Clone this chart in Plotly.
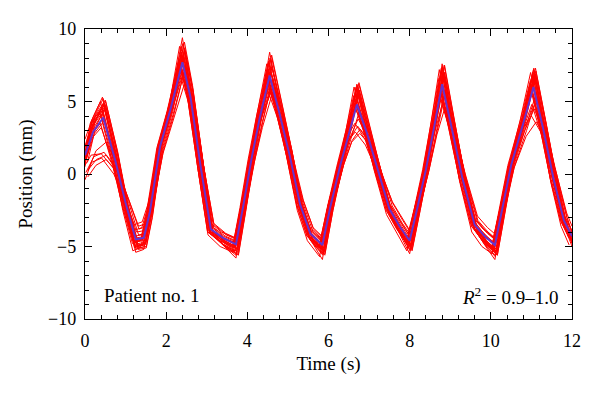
import plotly.graph_objects as go

# Shared sample times (s)
TIME = [0.0, 0.2, 0.45, 0.75, 1.0, 1.25, 1.45, 1.6, 1.85, 2.1, 2.4, 2.6, 2.85, 3.1, 3.4, 3.72,
        3.9, 4.1, 4.3, 4.55, 4.8, 5.05, 5.3, 5.55, 5.85, 6.05, 6.3, 6.5, 6.7, 6.95, 7.2, 7.5,
        7.75, 8.0, 8.2, 8.4, 8.6, 8.8, 9.05, 9.3, 9.6, 9.85, 10.1, 10.3, 10.5, 10.8, 11.05,
        11.3, 11.55, 11.8, 12.0]

# Mean (blue) trace, mm
MEAN = [1.3, 2.9, 3.9, 0.9, -2.0, -4.5, -4.4, -2.6, 1.9, 4.4, 7.7, 5.3, 0.5, -3.8, -4.4, -4.85,
        -2.2, 1.0, 3.8, 6.8, 4.1, 1.2, -2.1, -4.1, -4.9, -2.2, 0.7, 2.8, 4.8, 2.8, 0.4, -2.4,
        -3.6, -4.6, -2.2, 0.3, 3.2, 6.2, 3.0, -0.3, -3.5, -4.3, -4.9, -2.2, 0.6, 3.5, 6.0,
        3.0, -0.4, -3.2, -4.3]

# Per-trace time offsets (s)
SHIFT = [0.0, -0.07, 0.05, -0.03, 0.04, -0.08, 0.08, -0.04, 0.02, 0.07, -0.05, 0.01,
         -0.02, 0.05, -0.06, 0.03, -0.02, 0.06, -0.04, 0.03, -0.07, 0.07, 0.0, -0.05, 0.06]

# Individual (red) traces, mm
TRACES = [
    [1.8, 3.8, 5.2, 1.5, -2.2, -5.0, -4.8, -2.8, 2.2, 4.8, 9.4, 6.0, 0.8, -4.0, -4.9, -5.6, -2.5, 1.2, 4.3, 8.4, 4.8, 1.5, -2.3, -4.5, -5.5, -2.4, 0.9, 3.4, 6.2, 3.3, 0.6, -2.6, -4.0, -5.2, -2.5, 0.5, 3.8, 7.6, 3.6, -0.2, -3.8, -4.8, -5.6, -2.4, 0.8, 4.0, 7.2, 3.5, -0.3, -3.4, -4.8],
    [0.9, 3.5, 5.0, 1.2, -2.5, -5.3, -5.0, -3.0, 1.6, 4.0, 8.8, 5.8, 0.4, -4.2, -5.0, -5.4, -2.6, 0.8, 4.0, 7.6, 4.5, 1.0, -2.5, -4.6, -5.7, -2.6, 0.5, 3.0, 6.0, 3.0, 0.2, -2.8, -4.1, -5.3, -2.6, 0.2, 3.6, 7.2, 3.4, -0.5, -4.0, -5.0, -5.5, -2.6, 0.4, 3.8, 7.0, 3.3, -0.6, -3.6, -4.9],
    [2.0, 3.9, 4.8, 1.4, -2.0, -4.8, -4.7, -2.5, 2.3, 5.0, 8.6, 5.9, 1.0, -3.9, -4.7, -5.2, -2.3, 1.3, 4.2, 7.4, 4.6, 1.6, -2.0, -4.3, -5.3, -2.3, 1.0, 3.3, 5.8, 3.2, 0.7, -2.5, -3.8, -5.0, -2.3, 0.6, 3.9, 7.0, 3.6, 0.0, -3.6, -4.6, -5.4, -2.3, 0.9, 4.1, 6.9, 3.6, 0.0, -3.2, -4.6],
    [1.5, 3.6, 4.6, 1.0, -2.3, -5.1, -4.9, -2.9, 1.9, 4.6, 8.2, 5.6, 0.6, -4.1, -4.8, -5.3, -2.4, 1.0, 4.1, 7.2, 4.4, 1.3, -2.2, -4.4, -5.2, -2.4, 0.8, 3.1, 5.6, 3.0, 0.4, -2.6, -3.9, -5.0, -2.4, 0.4, 3.6, 6.9, 3.3, -0.2, -3.7, -4.7, -5.3, -2.4, 0.7, 3.8, 6.6, 3.3, -0.3, -3.3, -4.5],
    [1.1, 3.3, 4.4, 1.1, -2.1, -4.9, -4.8, -2.7, 2.0, 4.5, 8.0, 5.5, 0.7, -3.9, -4.6, -5.1, -2.3, 1.1, 3.9, 7.0, 4.3, 1.3, -2.1, -4.2, -5.1, -2.3, 0.8, 3.0, 5.5, 3.0, 0.5, -2.5, -3.7, -4.9, -2.3, 0.4, 3.5, 6.8, 3.3, -0.2, -3.6, -4.6, -5.2, -2.3, 0.7, 3.7, 6.5, 3.2, -0.3, -3.3, -4.4],
    [0.5, 3.0, 4.2, 0.9, -2.2, -4.8, -4.6, -2.6, 1.8, 4.3, 7.9, 5.4, 0.6, -4.0, -4.6, -5.0, -2.3, 1.0, 3.9, 7.1, 4.2, 1.2, -2.2, -4.3, -5.0, -2.3, 0.7, 2.9, 5.4, 2.9, 0.4, -2.5, -3.7, -4.8, -2.3, 0.3, 3.4, 6.6, 3.1, -0.3, -3.6, -4.5, -5.1, -2.3, 0.6, 3.6, 6.4, 3.1, -0.4, -3.2, -4.4],
    [0.3, 1.0, 1.3, 0.2, -1.8, -3.8, -3.6, -2.2, 1.6, 4.0, 7.5, 5.1, 0.4, -3.5, -4.2, -4.6, -2.1, 0.9, 3.6, 6.6, 4.0, 1.0, -1.8, -3.8, -4.6, -2.0, 0.7, 2.3, 3.1, 2.2, 0.3, -2.0, -3.2, -4.3, -2.0, 0.3, 3.0, 5.6, 3.0, -0.2, -3.2, -4.0, -4.6, -2.0, 0.5, 3.0, 5.3, 2.8, -0.2, -3.0, -4.0],
    [-0.4, 0.8, 1.1, 0.0, -1.6, -3.5, -3.3, -2.0, 1.5, 3.8, 7.2, 5.0, 0.6, -3.3, -4.0, -4.4, -2.0, 0.8, 3.4, 6.2, 3.9, 1.1, -1.7, -3.6, -4.4, -1.9, 0.6, 2.2, 2.9, 2.0, 0.4, -1.9, -3.0, -4.1, -1.9, 0.2, 2.8, 5.2, 2.8, -0.1, -3.0, -3.8, -4.4, -1.9, 0.4, 2.8, 4.8, 2.6, -0.1, -2.8, -3.7],
    [0.1, 1.2, 1.5, 0.3, -1.9, -4.0, -3.9, -2.4, 1.7, 4.1, 7.0, 5.0, 0.5, -3.6, -4.3, -4.7, -2.2, 0.9, 3.5, 6.0, 3.9, 1.0, -1.9, -3.9, -4.7, -2.1, 0.6, 2.4, 3.3, 2.3, 0.3, -2.1, -3.3, -4.4, -2.1, 0.3, 2.9, 5.0, 2.9, -0.1, -3.1, -3.9, -4.5, -2.1, 0.5, 2.9, 4.5, 2.7, -0.1, -2.9, -3.9],
    [-0.2, 0.6, 1.0, 0.1, -1.7, -3.6, -3.4, -2.1, 1.4, 3.6, 6.4, 4.6, 0.5, -3.4, -4.1, -4.5, -2.0, 0.8, 3.2, 5.6, 3.6, 0.9, -1.8, -3.7, -4.5, -2.0, 0.6, 2.2, 2.8, 2.0, 0.3, -1.9, -3.1, -4.2, -2.0, 0.2, 2.7, 4.6, 2.7, 0.0, -2.9, -3.7, -4.3, -2.0, 0.4, 2.6, 3.6, 2.4, 0.0, -2.7, -3.6],
    [0.6, 1.3, 1.4, 0.4, -1.7, -3.9, -3.7, -2.3, 1.8, 4.2, 6.8, 4.9, 0.6, -3.7, -4.4, -4.8, -2.1, 1.0, 3.6, 5.8, 3.8, 1.1, -1.9, -4.0, -4.8, -2.1, 0.7, 2.5, 3.5, 2.4, 0.3, -2.2, -3.4, -4.5, -2.1, 0.3, 3.0, 5.4, 3.0, -0.1, -3.2, -4.0, -4.7, -2.1, 0.5, 3.0, 4.0, 2.8, -0.1, -3.0, -4.1],
    [1.6, 3.4, 4.9, 1.3, -2.4, -5.2, -5.0, -2.9, 2.1, 4.7, 9.0, 5.9, 0.9, -4.1, -4.9, -5.5, -2.5, 1.2, 4.4, 8.0, 4.7, 1.4, -2.4, -4.6, -5.6, -2.5, 0.9, 3.3, 6.1, 3.2, 0.5, -2.7, -4.0, -5.3, -2.5, 0.5, 3.9, 7.4, 3.5, -0.3, -3.9, -4.9, -5.7, -2.5, 0.8, 4.0, 7.3, 3.5, -0.4, -3.5, -4.7],
    [1.9, 3.7, 4.5, 1.3, -2.1, -4.7, -4.5, -2.6, 2.0, 4.6, 8.4, 5.7, 0.8, -3.8, -4.5, -5.0, -2.3, 1.2, 4.1, 7.8, 4.5, 1.4, -2.0, -4.2, -5.1, -2.2, 0.9, 3.2, 5.9, 3.1, 0.6, -2.4, -3.8, -4.9, -2.2, 0.5, 3.7, 7.3, 3.5, 0.0, -3.5, -4.5, -5.2, -2.2, 0.8, 3.9, 7.0, 3.4, -0.1, -3.1, -4.4],
    [2.2, 4.0, 5.1, 1.6, -2.0, -4.9, -4.8, -2.7, 2.3, 5.1, 9.1, 6.1, 1.0, -4.0, -4.8, -5.4, -2.4, 1.3, 4.5, 8.2, 4.9, 1.6, -2.2, -4.4, -5.4, -2.4, 1.0, 3.5, 6.3, 3.4, 0.7, -2.6, -3.9, -5.1, -2.4, 0.6, 4.0, 7.5, 3.7, 0.0, -3.7, -4.7, -5.5, -2.4, 0.9, 4.2, 7.3, 3.7, 0.0, -3.3, -4.6],
    [1.2, 3.1, 4.1, 1.0, -2.2, -4.6, -4.5, -2.6, 1.9, 4.4, 7.8, 5.4, 0.6, -3.9, -4.5, -4.9, -2.3, 1.0, 3.9, 7.0, 4.2, 1.2, -2.1, -4.2, -5.0, -2.2, 0.7, 2.9, 5.2, 2.9, 0.4, -2.4, -3.7, -4.7, -2.2, 0.3, 3.4, 6.4, 3.1, -0.3, -3.5, -4.4, -5.0, -2.2, 0.6, 3.5, 6.2, 3.1, -0.4, -3.2, -4.3],
    [1.0, 2.8, 3.7, 0.8, -2.0, -4.4, -4.3, -2.5, 1.8, 4.2, 7.4, 5.2, 0.5, -3.7, -4.4, -4.8, -2.2, 0.9, 3.7, 6.5, 4.0, 1.1, -2.0, -4.0, -4.8, -2.1, 0.6, 2.5, 3.8, 2.5, 0.3, -2.3, -3.5, -4.6, -2.1, 0.3, 3.2, 6.0, 3.0, -0.3, -3.4, -4.3, -4.8, -2.1, 0.5, 3.2, 4.8, 2.9, -0.3, -3.1, -4.2],
    [2.4, 3.8, 5.3, 1.4, -2.3, -5.0, -4.9, -2.8, 2.1, 4.9, 8.8, 5.8, 0.8, -4.1, -4.8, -5.3, -2.5, 1.1, 4.2, 7.7, 4.6, 1.4, -2.3, -4.5, -5.4, -2.4, 0.9, 3.3, 6.0, 3.2, 0.6, -2.6, -3.9, -5.1, -2.4, 0.5, 3.8, 7.2, 3.5, -0.2, -3.7, -4.7, -5.4, -2.4, 0.8, 3.9, 6.8, 3.5, -0.2, -3.4, -4.6],
    [0.8, 3.2, 4.7, 1.2, -2.3, -5.2, -5.1, -3.0, 1.8, 4.3, 8.5, 5.6, 0.5, -4.2, -5.0, -5.6, -2.6, 0.9, 4.0, 7.4, 4.4, 1.1, -2.4, -4.5, -5.5, -2.5, 0.6, 3.1, 5.8, 3.0, 0.3, -2.8, -4.1, -5.2, -2.5, 0.3, 3.6, 7.0, 3.3, -0.4, -3.9, -4.9, -5.6, -2.5, 0.6, 3.8, 6.8, 3.3, -0.5, -3.5, -4.8],
    [1.4, 3.5, 4.3, 1.1, -2.1, -4.7, -4.6, -2.7, 2.0, 4.5, 8.1, 5.5, 0.7, -3.9, -4.6, -5.0, -2.3, 1.1, 4.0, 7.2, 4.3, 1.3, -2.1, -4.3, -5.1, -2.3, 0.8, 3.0, 5.5, 3.0, 0.5, -2.5, -3.8, -4.9, -2.3, 0.4, 3.5, 6.9, 3.3, -0.2, -3.6, -4.6, -5.2, -2.3, 0.7, 3.7, 6.7, 3.3, -0.3, -3.3, -4.5],
    [1.7, 3.6, 4.6, 1.3, -2.2, -5.0, -4.9, -2.8, 2.0, 4.6, 8.3, 5.6, 0.7, -4.0, -4.7, -5.2, -2.4, 1.0, 3.8, 5.6, 4.0, 1.3, -2.2, -4.4, -5.3, -2.4, 0.8, 3.1, 5.7, 3.1, 0.5, -2.6, -3.9, -5.0, -2.4, 0.4, 3.6, 7.0, 3.4, -0.2, -3.7, -4.7, -5.3, -2.4, 0.7, 3.8, 6.9, 3.4, -0.3, -3.4, -4.6],
    [1.0, 2.6, 3.5, 0.6, -2.3, -4.6, -4.6, -2.8, 1.7, 4.2, 7.6, 5.2, 0.4, -4.0, -4.6, -5.1, -2.4, 0.9, 3.7, 6.6, 4.0, 1.1, -2.2, -4.3, -5.1, -2.3, 0.6, 2.7, 4.9, 2.8, 0.3, -2.5, -3.8, -4.8, -2.3, 0.2, 3.1, 6.1, 2.9, -0.4, -3.6, -4.5, -5.1, -2.3, 0.5, 3.4, 5.9, 2.9, -0.5, -3.3, -4.4],
    [0.2, 1.6, 2.2, 0.5, -1.9, -4.2, -4.1, -2.5, 1.7, 4.1, 7.3, 5.1, 0.6, -3.7, -4.3, -4.7, -2.1, 1.0, 3.6, 6.4, 4.0, 1.1, -2.0, -4.0, -4.7, -2.1, 0.7, 2.6, 4.4, 2.7, 0.4, -2.2, -3.4, -4.4, -2.1, 0.3, 3.1, 5.8, 3.0, -0.2, -3.3, -4.1, -4.7, -2.1, 0.6, 3.3, 5.6, 2.9, -0.2, -3.0, -4.1],
    [1.3, 3.3, 4.8, 1.2, -2.2, -5.4, -5.2, -3.0, 2.0, 4.6, 8.0, 5.5, 0.6, -4.1, -4.9, -5.8, -2.5, 1.1, 4.0, 7.3, 4.4, 1.2, -2.3, -4.5, -5.9, -2.5, 0.7, 3.0, 5.9, 3.0, 0.4, -2.7, -4.1, -5.5, -2.5, 0.4, 3.6, 7.3, 3.3, -0.3, -3.8, -4.9, -5.9, -2.5, 0.7, 3.8, 7.0, 3.3, -0.4, -3.5, -5.0],
    [0.7, 2.4, 3.2, 0.7, -2.1, -4.3, -4.2, -2.5, 1.8, 4.3, 7.6, 5.3, 0.8, -3.6, -4.4, -4.7, -2.2, 1.0, 3.8, 6.7, 4.1, 1.3, -2.0, -3.9, -4.7, -2.1, 0.8, 2.8, 4.6, 2.9, 0.5, -2.2, -3.3, -4.4, -2.1, 0.4, 3.3, 5.9, 3.1, -0.1, -3.3, -4.1, -4.8, -2.1, 0.6, 3.4, 5.8, 3.1, -0.1, -3.0, -4.1],
    [1.5, 3.7, 5.0, 1.4, -2.4, -5.1, -5.0, -2.9, 2.1, 4.8, 8.7, 5.8, 0.8, -4.2, -5.0, -5.5, -2.5, 1.2, 4.3, 7.9, 4.7, 1.4, -2.4, -4.6, -5.6, -2.5, 0.9, 3.4, 6.1, 3.3, 0.6, -2.7, -4.0, -5.3, -2.5, 0.5, 3.9, 7.5, 3.6, -0.2, -3.8, -4.8, -5.6, -2.5, 0.8, 4.0, 7.1, 3.5, -0.3, -3.5, -4.7],
]

X_TICKS = [0, 2, 4, 6, 8, 10, 12]
Y_TICKS = [-10, -5, 0, 5, 10]
Y_TICKTEXT = ["\u221210", "\u22125", "0", "5", "10"]

FONT = "Liberation Serif"

fig = go.Figure()
for tr, sh in zip(TRACES, SHIFT):
    xs = [min(max(t + sh, 0.0), 12.0) for t in TIME]
    fig.add_trace(go.Scatter(x=xs, y=tr, mode="lines",
                             line=dict(color="#ff0000", width=1), showlegend=False,
                             hoverinfo="skip"))
fig.add_trace(go.Scatter(x=TIME, y=MEAN, mode="lines",
                         line=dict(color="#6633cc", width=2), showlegend=False))

axis_common = dict(
    showline=True, linecolor="black", linewidth=1.3, mirror="allticks",
    ticks="inside", ticklen=7, tickwidth=1.3, tickcolor="black",
    showgrid=False, zeroline=False,
    tickfont=dict(family=FONT, size=18, color="black"),
)

fig.update_layout(
    width=600, height=396,
    margin=dict(l=77, r=36, t=21, b=85),
    paper_bgcolor="white", plot_bgcolor="white",
    font=dict(family=FONT, color="black"),
    xaxis=dict(range=[0, 12], tickvals=X_TICKS,
               minor=dict(ticks="inside", dtick=0.4, tick0=0, ticklen=4,
                          tickwidth=1.2, tickcolor="black"),
               title=dict(text="Time (s)", font=dict(family=FONT, size=19), standoff=6),
               ticklabelstandoff=5, **axis_common),
    yaxis=dict(range=[-10, 10], tickvals=Y_TICKS, ticktext=Y_TICKTEXT,
               minor=dict(ticks="inside", dtick=1, tick0=0, ticklen=4,
                          tickwidth=1.2, tickcolor="black"),
               title=dict(text="Position (mm)", font=dict(family=FONT, size=19), standoff=10),
               ticklabelstandoff=4, **axis_common),
    annotations=[
        dict(text="Patient no. 1", x=0.035, y=0.08, xref="paper", yref="paper",
             xanchor="left", yanchor="middle", showarrow=False,
             font=dict(family=FONT, size=19, color="black")),
        dict(text="<i>R</i><sup>2</sup> = 0.9\u20131.0", x=0.975, y=0.08, xref="paper",
             yref="paper", xanchor="right", yanchor="middle", showarrow=False,
             font=dict(family=FONT, size=19, color="black")),
    ],
)

fig.write_html("out.html")
